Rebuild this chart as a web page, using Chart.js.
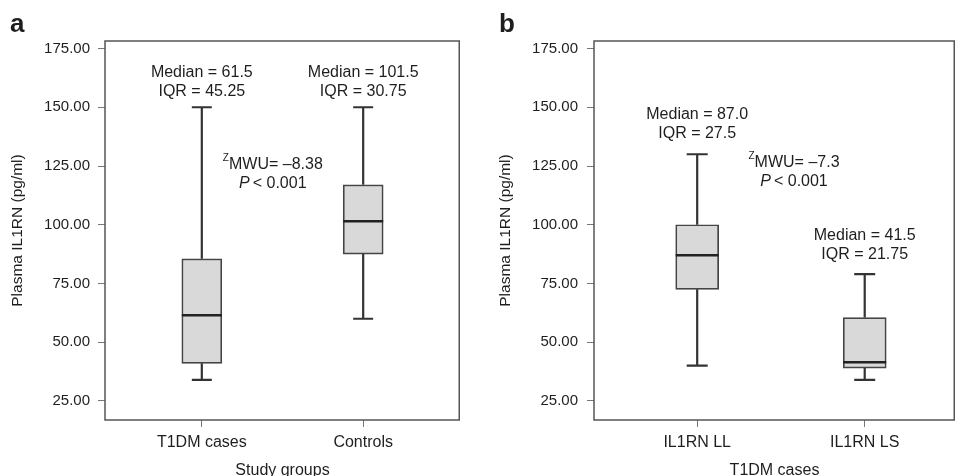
<!DOCTYPE html>
<html>
<head>
<meta charset="utf-8">
<script src="https://cdn.jsdelivr.net/npm/chart.js@4.4.1/dist/chart.umd.min.js"></script>
<style>
  html, body { margin: 0; padding: 0; background: #fff; }
  #wrapA { position: absolute; left: 0; top: 0; width: 477px; height: 476px; }
  #wrapB { position: absolute; left: 477px; top: 0; width: 478px; height: 476px; }
</style>
</head>
<body>
<div id="wrapA"><canvas id="panelA"></canvas></div>
<div id="wrapB"><canvas id="panelB"></canvas></div>
<script>
// box plot values
const groupsA = ['T1DM cases', 'Controls'];
const minA = [34, 60];
const q1A = [41, 87.5];
const medianA = [61.5, 101.5];
const q3A = [85.5, 117];
const maxA = [150, 150];
const summaryA = [['Median = 61.5', 'IQR = 45.25'], ['Median = 101.5', 'IQR = 30.75']];

const groupsB = ['IL1RN LL', 'IL1RN LS'];
const minB = [40, 34];
const q1B = [72.5, 39];
const medianB = [87, 41.5];
const q3B = [100, 60.5];
const maxB = [130, 79];
const summaryB = [['Median = 87.0', 'IQR = 27.5'], ['Median = 41.5', 'IQR = 21.75']];

const yTicks = [25, 50, 75, 100, 125, 150, 175];

const FONT = '"Liberation Sans", Arial, sans-serif';
const TEXT = '#1e1e1e';

// draws whiskers, medians, the frame and the text notes on top of the bars
const boxPlugin = {
    id: 'boxParts',
    afterDatasetsDraw(chart, args, o) {
        const { ctx, chartArea: a, scales: { x, y } } = chart;
        ctx.save();
        o.groups.forEach((g, i) => {
            const cx = x.getPixelForValue(i);
            const hb = o.boxWidth / 2, hc = o.capWidth / 2;
            ctx.strokeStyle = '#333';
            ctx.lineWidth = 2.2;
            ctx.beginPath();
            ctx.moveTo(cx, y.getPixelForValue(o.max[i]));
            ctx.lineTo(cx, y.getPixelForValue(o.q3[i]));
            ctx.moveTo(cx, y.getPixelForValue(o.q1[i]));
            ctx.lineTo(cx, y.getPixelForValue(o.min[i]));
            ctx.moveTo(cx - hc, y.getPixelForValue(o.max[i]));
            ctx.lineTo(cx + hc, y.getPixelForValue(o.max[i]));
            ctx.moveTo(cx - hc, y.getPixelForValue(o.min[i]));
            ctx.lineTo(cx + hc, y.getPixelForValue(o.min[i]));
            ctx.stroke();
            ctx.lineWidth = 2.5;
            ctx.strokeStyle = '#222';
            ctx.beginPath();
            ctx.moveTo(cx - hb, y.getPixelForValue(o.median[i]));
            ctx.lineTo(cx + hb, y.getPixelForValue(o.median[i]));
            ctx.stroke();
        });

        // plot frame
        ctx.strokeStyle = '#555';
        ctx.lineWidth = 1.5;
        ctx.strokeRect(a.left, a.top, a.right - a.left - 0.75, a.bottom - a.top);

        ctx.fillStyle = TEXT;
        ctx.textAlign = 'center';
        ctx.textBaseline = 'middle';
        ctx.font = '16px ' + FONT;
        o.notes.forEach(n => {
            const px = x.getPixelForValue(n.x);
            const py = y.getPixelForValue(n.y);
            n.lines.forEach((t, k) => ctx.fillText(t, px, py + k * 19));
        });

        // z(MWU) statistic and P value
        const sx = x.getPixelForValue(o.stat.x);
        const sy = y.getPixelForValue(o.stat.y);
        ctx.font = '16px ' + FONT;
        const w1 = ctx.measureText(o.stat.text).width;
        ctx.font = '10px ' + FONT;
        const wz = ctx.measureText('Z').width;
        const start = sx - (w1 + wz) / 2;
        ctx.textAlign = 'left';
        ctx.fillText('Z', start, sy - 6);
        ctx.font = '16px ' + FONT;
        ctx.fillText(o.stat.text, start + wz, sy);
        ctx.font = 'italic 16px ' + FONT;
        const wp = ctx.measureText('P').width;
        ctx.font = '16px ' + FONT;
        const wr = ctx.measureText('< 0.001').width;
        const pStart = sx - (wp + 3 + wr) / 2;
        ctx.font = 'italic 16px ' + FONT;
        ctx.fillText('P', pStart, sy + 19);
        ctx.font = '16px ' + FONT;
        ctx.fillText('< 0.001', pStart + wp + 3, sy + 19);

        // panel letter
        ctx.font = 'bold 26px ' + FONT;
        ctx.textBaseline = 'alphabetic';
        ctx.fillText(o.letter, o.letterX, 32);
        ctx.restore();
    }
};

function makePanel(id, p) {
    const ctx = document.getElementById(id).getContext('2d');
    return new Chart(ctx, {
        type: 'bar',
        data: {
            datasets: [{
                data: p.groups.map((g, i) => ({ x: i, y: [p.q1[i], p.q3[i]] })),
                backgroundColor: '#d9d9d9',
                borderColor: '#444',
                borderWidth: 1.7,
                borderSkipped: false,
                barThickness: p.boxWidth,
            }]
        },
        options: {
            responsive: true,
            maintainAspectRatio: false,
            animation: false,
            layout: { padding: { top: 41, right: p.padRight, left: 0, bottom: 0 } },
            plugins: {
                legend: { display: false },
                tooltip: { enabled: false },
                boxParts: p,
            },
            scales: {
                x: {
                    type: 'linear',
                    min: p.xMin,
                    max: p.xMax,
                    offset: false,
                    afterFit: s => { s.height = 56; },
                    afterBuildTicks: s => { s.ticks = p.groups.map((g, i) => ({ value: i })); },
                    ticks: {
                        callback: v => p.groups[v],
                        autoSkip: false,
                        maxRotation: 0,
                        padding: 6,
                        color: TEXT,
                        font: { family: FONT, size: 16 }
                    },
                    grid: { offset: false, drawOnChartArea: false, drawTicks: true, tickLength: 7, color: '#777', lineWidth: 1 },
                    border: { display: false },
                    title: { display: true, text: p.xTitle, color: TEXT, font: { family: FONT, size: 16 }, padding: { top: 0, bottom: -4 } }
                },
                y: {
                    min: 16.9,
                    max: 178.2,
                    afterFit: s => { s.width = p.yWidth; },
                    afterBuildTicks: s => { s.ticks = yTicks.map(v => ({ value: v })); },
                    ticks: {
                        callback: v => v.toFixed(2),
                        padding: p.tickPad,
                        color: TEXT,
                        font: { family: FONT, size: 15 }
                    },
                    grid: { drawOnChartArea: false, drawTicks: true, tickLength: 7, color: '#777', lineWidth: 1 },
                    border: { display: false },
                    title: { display: true, text: 'Plasma IL1RN (pg/ml)', color: TEXT, font: { family: FONT, size: 15.5 }, padding: { top: p.titlePad, bottom: 0 } }
                }
            }
        },
        plugins: [boxPlugin]
    });
}

makePanel('panelA', {
    groups: groupsA, min: minA, q1: q1A, median: medianA, q3: q3A, max: maxA,
    xTitle: 'Study groups', xMin: -0.6, xMax: 1.6,
    padRight: 17, yWidth: 105, tickPad: 8, titlePad: 8.8,
    boxWidth: 40, capWidth: 20,
    notes: [
        { x: 0, y: 164.8, lines: summaryA[0] },
        { x: 1, y: 164.8, lines: summaryA[1] }
    ],
    stat: { x: 0.44, y: 125.7, text: 'MWU= \u20138.38' },
    letter: 'a', letterX: 10
});

makePanel('panelB', {
    groups: groupsB, min: minB, q1: q1B, median: medianB, q3: q3B, max: maxB,
    xTitle: 'T1DM cases', xMin: -0.616, xMax: 1.539,
    padRight: 0, yWidth: 117, tickPad: 9, titlePad: 19.4,
    boxWidth: 43, capWidth: 21,
    notes: [
        { x: 0, y: 147, lines: summaryB[0] },
        { x: 1, y: 95.4, lines: summaryB[1] }
    ],
    stat: { x: 0.578, y: 126.6, text: 'MWU= \u20137.3' },
    letter: 'b', letterX: 22
});
</script>
</body>
</html>
